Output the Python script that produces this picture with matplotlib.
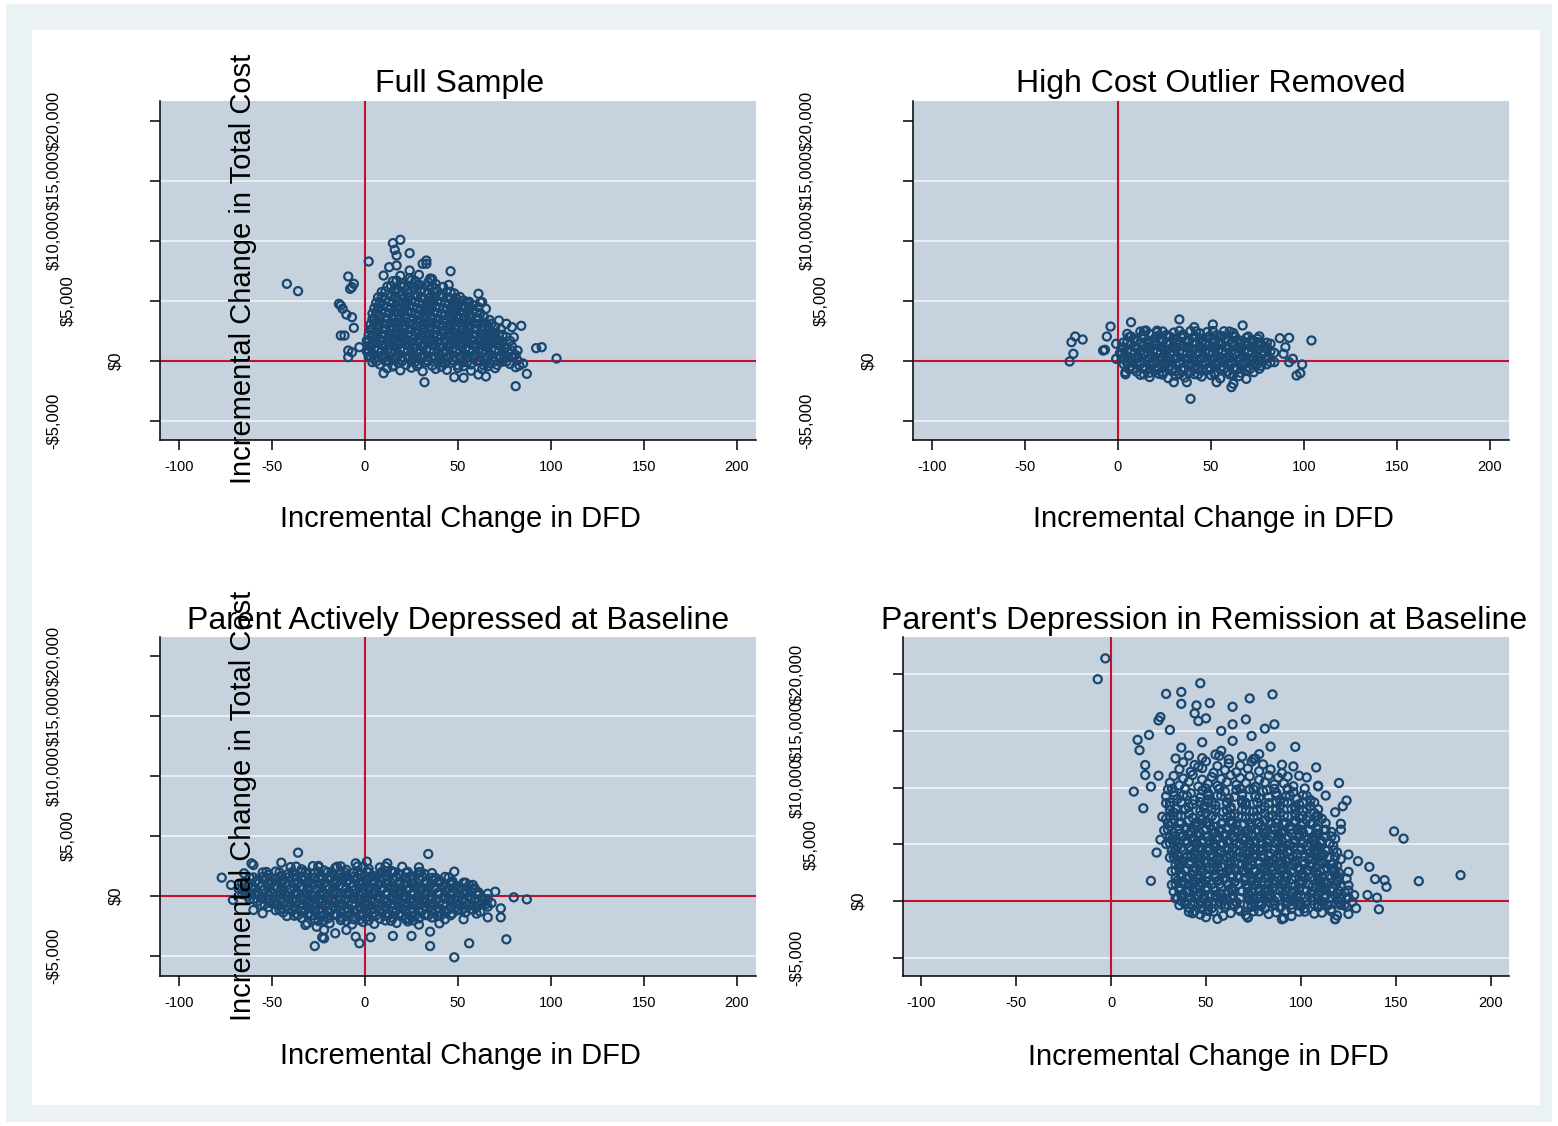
import matplotlib
matplotlib.use("Agg")
import matplotlib.pyplot as plt
import matplotlib.transforms as mtransforms
from matplotlib.patches import Rectangle

plt.rcParams['font.family'] = ['Liberation Sans', 'DejaVu Sans']

# ---------------- data ----------------
titles = ["Full Sample", "High Cost Outlier Removed",
          "Parent Actively Depressed at Baseline",
          "Parent's Depression in Remission at Baseline"]
x_title = "Incremental Change in DFD"
y_title = "Incremental Change in Total Cost"
x_ticks = [-100, -50, 0, 50, 100, 150, 200]
y_ticks = [-5000, 0, 5000, 10000, 15000, 20000]
y_tick_labels = ["-$5,000", "$0", "$5,000", "$10,000", "$15,000", "$20,000"]

# Panel 1: Full Sample
full_dfd = [
 12,19,25,31,38,44,50,57,63,70,
 4,8,11,15,18,22,25,29,32,36,39,43,46,50,53,57,60,64,67,71,74,78,
 2,5,9,12,16,19,23,26,30,33,37,40,44,47,51,54,58,61,65,68,72,75,79,82,
 1,4,7,11,14,18,21,25,28,32,35,39,42,46,49,53,56,60,63,67,70,74,77,81,
 2,5,9,12,16,19,23,26,30,33,37,40,44,47,51,54,58,61,65,68,72,75,79,
 1,4,8,11,15,18,22,25,29,32,36,39,43,46,50,53,57,60,64,67,71,74,78,
 2,6,9,13,16,20,23,27,30,34,37,41,44,48,51,55,58,62,65,69,72,76,
 3,6,10,13,17,20,24,27,31,34,38,41,45,48,52,55,59,62,66,69,73,
 3,7,10,14,17,21,24,28,31,35,38,42,45,49,52,56,59,63,66,70,
 4,7,11,14,18,21,25,28,32,35,39,42,46,49,53,56,60,63,67,
 4,8,11,15,18,22,25,29,32,36,39,43,46,50,53,57,60,64,
 5,9,12,16,19,23,26,30,33,37,40,44,47,51,54,58,61,
 6,10,13,17,20,24,27,31,34,38,41,45,48,52,55,58,
 7,11,14,18,21,25,28,32,35,39,42,46,49,53,
 9,13,16,20,23,27,30,34,37,41,44,48,
 12,16,19,23,26,30,34,38,42,
 15,20,25,29,34,38,
 19,24,29,
 -42,-36,2,15,19,16,17,24,33,33,46,45,36,-9,-6,-8,-13,-14,-12,-10,
 -7,-6,-13,-11,-9,-9,-7,-3,10,32,48,53,61,65,81,87,83,82,92,95,
 103,84,79,76,72,65,61,62,80,81,85,31,63,-7,17,13,24,10,35,
]
full_cost = [
 -650,-820,-600,-900,-700,-780,-620,-850,-720,-640,
 -140,-330,-60,-420,-220,-370,-90,-290,-170,-440,-110,-260,-190,-400,-140,-330,-60,-420,-220,-370,-90,-290,
 310,120,390,30,230,80,360,160,280,10,340,190,260,50,310,120,390,30,230,80,360,160,280,10,
 760,570,840,480,680,530,810,610,730,460,790,640,710,500,760,570,840,480,680,530,810,610,730,460,
 1210,1020,1290,930,1130,980,1260,1060,1180,910,1240,1090,1160,950,1210,1020,1290,930,1130,980,1260,1060,1180,
 1660,1470,1740,1380,1580,1430,1710,1510,1630,1360,1690,1540,1610,1400,1660,1470,1740,1380,1580,1430,1710,1510,1630,
 2110,1920,2190,1830,2030,1880,2160,1960,2080,1810,2140,1990,2060,1850,2110,1920,2190,1830,2030,1880,2160,1960,
 2560,2370,2640,2280,2480,2330,2610,2410,2530,2260,2590,2440,2510,2300,2560,2370,2640,2280,2480,2330,2610,
 3010,2820,3090,2730,2930,2780,3060,2860,2980,2710,3040,2890,2960,2750,3010,2820,3090,2730,2930,2780,
 3460,3270,3540,3180,3380,3230,3510,3310,3430,3160,3490,3340,3410,3200,3460,3270,3540,3180,3380,
 3910,3720,3990,3630,3830,3680,3960,3760,3880,3610,3940,3790,3860,3650,3910,3720,3990,3630,
 4360,4170,4440,4080,4280,4130,4410,4210,4330,4060,4390,4240,4310,4100,4360,4170,4440,
 4810,4620,4890,4530,4730,4580,4860,4660,4780,4510,4840,4690,4760,4550,4810,4620,
 5260,5070,5340,4980,5180,5030,5310,5110,5230,4960,5290,5140,5210,5000,
 5710,5520,5790,5430,5630,5480,5760,5560,5680,5410,5740,5590,
 6160,5970,6240,5880,6080,5930,6210,6010,6130,
 6610,6420,6690,6330,6530,6380,
 7060,6870,7140,
 6390,5780,8250,9780,10060,9220,8750,8940,8330,8060,7440,6300,6800,7000,6390,5970,4580,4720,4310,3830,
 3610,2720,2080,2080,830,280,690,1110,-1060,-1810,-1390,-1440,-1170,-1330,-2140,-1110,-420,830,1030,1110,
 170,2890,2780,3060,3330,4310,5560,4860,1940,-560,-250,8060,4860,6110,7920,7780,7500,7080,6830,
]
# second batch of points in the dense core of panel 1
full_dfd_2 = [
 15,28,41,53,66,
 6,13,20,27,34,41,48,55,62,69,76,
 3,10,17,24,31,38,45,52,59,66,73,80,
 2,9,16,23,30,37,44,51,58,65,72,79,
 3,10,17,24,31,38,45,52,59,66,73,
 2,9,16,23,30,37,44,51,58,65,72,
 4,11,18,25,32,39,46,53,60,67,74,
 4,11,18,25,32,39,46,53,60,67,
 5,12,19,26,33,40,47,54,61,68,
 5,12,19,26,33,40,47,54,61,
 6,13,20,27,34,41,48,55,62,
 7,14,21,28,35,42,49,56,
 8,15,22,29,36,43,50,56,
 9,16,23,30,37,44,51,
 11,18,25,32,39,46,
 14,21,28,36,
 17,27,36,
]
full_cost_2 = [
 -500,-460,-520,-470,-490,
 -90,-120,-60,-110,-80,-130,-70,-100,-50,-120,-90,
 360,330,380,340,370,320,350,390,330,360,340,370,
 810,780,830,790,820,770,800,840,780,810,790,820,
 1260,1230,1280,1240,1270,1220,1250,1290,1230,1260,1240,
 1710,1680,1730,1690,1720,1670,1700,1740,1680,1710,1690,
 2160,2130,2180,2140,2170,2120,2150,2190,2130,2160,2140,
 2610,2580,2630,2590,2620,2570,2600,2640,2580,2610,
 3060,3030,3080,3040,3070,3020,3050,3090,3030,3060,
 3510,3480,3530,3490,3520,3470,3500,3540,3480,
 3960,3930,3980,3940,3970,3920,3950,3990,3930,
 4410,4380,4430,4390,4420,4370,4400,4440,
 4860,4830,4880,4840,4870,4820,4850,4890,
 5310,5280,5330,5290,5320,5270,5300,
 5760,5730,5780,5740,5770,5720,
 6210,6180,6230,6190,
 6660,6630,6680,
]

# Panel 2: High Cost Outlier Removed
hc_dfd = [
 12,17,21,26,30,35,39,44,48,53,57,62,
 6,9,13,16,20,23,27,30,34,37,41,44,48,51,55,58,62,65,69,72,76,
 3,7,10,14,17,21,24,28,31,35,38,42,45,49,52,56,59,63,66,70,73,77,80,
 2,5,9,12,16,19,23,26,30,33,37,40,44,47,51,54,58,61,65,68,72,75,79,82,
 1,4,7,11,14,18,21,25,28,32,35,39,42,46,49,53,56,60,63,67,70,74,77,81,84,
 2,5,9,12,16,19,23,26,30,33,37,40,44,47,51,54,58,61,65,68,72,75,79,82,
 3,7,10,14,17,21,24,28,31,35,38,42,45,49,52,56,59,63,66,70,73,77,80,
 6,10,13,17,20,24,27,31,34,38,41,45,48,52,55,59,62,66,69,73,76,
 12,17,22,27,31,36,41,45,50,55,60,65,
 -26,-24,-25,-23,-19,-4,-6,-7,-8,-1,-1,7,4,4,33,39,51,67,87,92,
 104,90,89,94,99,98,96,92,82,84,61,62,53,30,37,69,15,21,41,75,5,
]
hc_cost = [
 2410,2220,2490,2130,2330,2180,2460,2260,2380,2110,2440,2290,
 1960,1770,2040,1680,1880,1730,2010,1810,1930,1660,1990,1840,1910,1700,1960,1770,2040,1680,1880,1730,2010,
 1510,1320,1590,1230,1430,1280,1560,1360,1480,1210,1540,1390,1460,1250,1510,1320,1590,1230,1430,1280,1560,1360,1480,
 1060,870,1140,780,980,830,1110,910,1030,760,1090,940,1010,800,1060,870,1140,780,980,830,1110,910,1030,760,
 610,420,690,330,530,380,660,460,580,310,640,490,560,350,610,420,690,330,530,380,660,460,580,310,640,
 160,-30,240,-120,80,-70,210,10,130,-140,190,40,110,-100,160,-30,240,-120,80,-70,210,10,130,-140,
 -290,-480,-210,-570,-370,-520,-240,-440,-320,-590,-260,-410,-340,-550,-290,-480,-210,-570,-370,-520,-240,-440,-320,
 -740,-930,-660,-1020,-820,-970,-690,-890,-770,-1040,-710,-860,-790,-1000,-740,-930,-660,-1020,-820,-970,-690,
 -1190,-1380,-1110,-1470,-1270,-1420,-1140,-1340,-1220,-1490,-1160,-1310,
 -80,560,1530,2000,1750,2830,2000,890,830,140,1390,3190,-970,-1150,3420,-3190,3000,2920,1860,1890,
 1670,1110,560,140,-330,-1060,-1250,-140,1390,-140,-2220,-1940,-1810,-1810,-1810,-1530,2500,2360,2780,1810,2220,
]
hc_dfd_2 = [
 14,24,33,42,51,60,
 7,14,21,28,35,42,49,56,63,70,
 5,12,19,26,33,40,47,54,61,68,75,
 3,10,17,24,31,38,45,52,59,66,73,80,
 2,9,16,23,30,37,44,51,58,65,72,79,
 3,10,17,24,31,38,45,52,59,66,73,80,
 5,12,19,26,33,40,47,54,61,68,75,
 8,15,22,29,36,43,50,57,64,71,
 14,24,33,43,52,62,
]
hc_cost_2 = [
 2450,2420,2470,2430,2460,2410,
 2000,1970,2020,1980,2010,1960,1990,2030,1970,2000,
 1550,1520,1570,1530,1560,1510,1540,1580,1520,1550,1530,
 1100,1070,1120,1080,1110,1060,1090,1130,1070,1100,1080,1110,
 650,620,670,630,660,610,640,680,620,650,630,660,
 200,170,220,180,210,160,190,230,170,200,180,210,
 -250,-280,-230,-270,-240,-290,-260,-220,-280,-250,-270,
 -700,-730,-680,-720,-690,-740,-710,-670,-730,-700,
 -1150,-1180,-1130,-1170,-1140,-1190,
]

# Panel 3: Parent actively depressed at baseline
act_dfd = [
 -40,-34,-28,-22,-16,-10,-4,2,8,14,20,
 -55,-52,-48,-45,-41,-38,-34,-31,-27,-24,-20,-17,-13,-10,-6,-3,1,4,8,11,15,18,22,25,29,32,36,
 -62,-58,-55,-51,-48,-44,-41,-37,-34,-30,-27,-23,-20,-16,-13,-9,-6,-2,1,5,8,12,15,19,22,26,29,33,36,40,43,47,
 -66,-63,-59,-56,-52,-49,-45,-42,-38,-35,-31,-28,-24,-21,-17,-14,-10,-7,-3,0,4,7,11,14,18,21,25,28,32,35,39,42,46,49,53,56,
 -68,-65,-61,-58,-54,-51,-47,-44,-40,-37,-33,-30,-26,-23,-19,-16,-12,-9,-5,-2,2,5,9,12,16,19,23,26,30,33,37,40,44,47,51,54,58,61,
 -66,-63,-59,-56,-52,-49,-45,-42,-38,-35,-31,-28,-24,-21,-17,-14,-10,-7,-3,0,4,7,11,14,18,21,25,28,32,35,39,42,46,49,53,56,60,63,66,
 -62,-58,-55,-51,-48,-44,-41,-37,-34,-30,-27,-23,-20,-16,-13,-9,-6,-2,1,5,8,12,15,19,22,26,29,33,36,40,43,47,50,54,57,61,64,68,
 -56,-52,-49,-45,-42,-38,-35,-31,-28,-24,-21,-17,-14,-10,-7,-3,0,4,7,11,14,18,21,25,28,32,35,39,42,46,49,53,56,60,63,66,
 -48,-44,-41,-37,-34,-30,-27,-23,-20,-16,-13,-9,-6,-2,1,5,8,12,15,19,22,26,29,33,36,40,43,47,50,54,57,60,
 -38,-34,-31,-27,-24,-20,-17,-13,-10,-6,-3,1,4,8,11,15,18,22,25,29,32,36,39,43,46,
 -25,-19,-13,-7,-1,5,11,17,23,29,
 -77,-72,-71,-61,-60,-55,-42,-36,-45,-32,-27,-23,-26,-16,-10,-5,-3,3,15,25,
 35,34,29,48,35,48,56,76,73,73,70,80,87,66,62,53,58,54,40,24,
 -3,-5,1,12,-25,-15,-60,-65,-31,-22,-22,
]
act_cost = [
 2410,2220,2490,2130,2330,2180,2460,2260,2380,2110,2440,
 1960,1770,2040,1680,1880,1730,2010,1810,1930,1660,1990,1840,1910,1700,1960,1770,2040,1680,1880,1730,2010,1810,1930,1660,1990,1840,1910,
 1510,1320,1590,1230,1430,1280,1560,1360,1480,1210,1540,1390,1460,1250,1510,1320,1590,1230,1430,1280,1560,1360,1480,1210,1540,1390,1460,1250,1510,1320,1590,1230,
 1060,870,1140,780,980,830,1110,910,1030,760,1090,940,1010,800,1060,870,1140,780,980,830,1110,910,1030,760,1090,940,1010,800,1060,870,1140,780,980,830,1110,910,
 610,420,690,330,530,380,660,460,580,310,640,490,560,350,610,420,690,330,530,380,660,460,580,310,640,490,560,350,610,420,690,330,530,380,660,460,580,310,
 160,-30,240,-120,80,-70,210,10,130,-140,190,40,110,-100,160,-30,240,-120,80,-70,210,10,130,-140,190,40,110,-100,160,-30,240,-120,80,-70,210,10,130,-140,190,
 -290,-480,-210,-570,-370,-520,-240,-440,-320,-590,-260,-410,-340,-550,-290,-480,-210,-570,-370,-520,-240,-440,-320,-590,-260,-410,-340,-550,-290,-480,-210,-570,-370,-520,-240,-440,-320,-590,
 -740,-930,-660,-1020,-820,-970,-690,-890,-770,-1040,-710,-860,-790,-1000,-740,-930,-660,-1020,-820,-970,-690,-890,-770,-1040,-710,-860,-790,-1000,-740,-930,-660,-1020,-820,-970,-690,-890,
 -1190,-1380,-1110,-1470,-1270,-1420,-1140,-1340,-1220,-1490,-1160,-1310,-1240,-1450,-1190,-1380,-1110,-1470,-1270,-1420,-1140,-1340,-1220,-1490,-1160,-1310,-1240,-1450,-1190,-1380,-1110,-1470,
 -1640,-1830,-1560,-1920,-1720,-1870,-1590,-1790,-1670,-1940,-1610,-1760,-1690,-1900,-1640,-1830,-1560,-1920,-1720,-1870,-1590,-1790,-1670,-1940,-1610,
 -2090,-2280,-2010,-2370,-2170,-2320,-2040,-2240,-2120,-2390,
 1530,920,-330,2720,-1170,-1440,-1670,3610,2780,-2420,-4170,-3440,-2560,-3110,-2830,-3390,-3940,-3440,-3330,-3330,
 -4170,3500,2390,2030,-2970,-5110,-3940,-3610,-1780,-1030,360,-110,-280,-1780,-1310,-1940,920,1060,-2280,-1940,
 -2000,2720,2860,2720,2500,2440,2580,1890,-2280,-2830,-3530,
]
act_dfd_2 = [
 -37,-25,-13,-1,11,
 -53,-46,-39,-32,-25,-18,-11,-4,2,9,16,23,30,
 -60,-53,-46,-39,-32,-25,-18,-11,-4,3,10,17,24,31,38,45,
 -64,-57,-50,-43,-36,-29,-22,-15,-8,-1,5,12,19,26,33,40,47,54,
 -66,-59,-52,-45,-38,-31,-24,-17,-10,-3,3,10,17,24,31,38,45,52,59,
 -64,-57,-50,-43,-36,-29,-22,-15,-8,-1,5,12,19,26,33,40,47,54,61,
 -60,-53,-46,-39,-32,-25,-18,-11,-4,3,10,17,24,31,38,45,52,59,66,
 -54,-47,-40,-33,-26,-19,-12,-5,2,9,16,23,30,37,44,51,58,65,
 -46,-39,-32,-25,-18,-11,-4,3,10,17,24,31,38,45,52,58,
 -36,-29,-22,-15,-8,-1,6,13,20,27,34,41,
 -22,-10,2,14,26,
]
act_cost_2 = [
 2450,2420,2470,2430,2460,
 2000,1970,2020,1980,2010,1960,1990,2030,1970,2000,1980,2010,1990,
 1550,1520,1570,1530,1560,1510,1540,1580,1520,1550,1530,1560,1540,1570,1510,1550,
 1100,1070,1120,1080,1110,1060,1090,1130,1070,1100,1080,1110,1090,1120,1060,1100,1080,1110,
 650,620,670,630,660,610,640,680,620,650,630,660,640,670,610,650,630,660,640,
 200,170,220,180,210,160,190,230,170,200,180,210,190,220,160,200,180,210,190,
 -250,-280,-230,-270,-240,-290,-260,-220,-280,-250,-270,-240,-260,-230,-290,-250,-270,-240,-260,
 -700,-730,-680,-720,-690,-740,-710,-670,-730,-700,-720,-690,-710,-680,-740,-700,-720,-690,
 -1150,-1180,-1130,-1170,-1140,-1190,-1160,-1120,-1180,-1150,-1170,-1140,-1160,-1130,-1190,-1150,
 -1600,-1630,-1580,-1620,-1590,-1640,-1610,-1570,-1630,-1600,-1620,-1590,
 -2050,-2080,-2030,-2070,-2040,
]

# Panel 4: Parent's depression in remission at baseline
rem_dfd = [
 41,47,51,59,63,71,75,83,87,95,99,107,111,119,
 36,41,43,48,51,53,58,60,65,67,72,74,79,81,86,89,92,95,100,102,107,109,114,116,121,124,
 34,37,42,44,49,51,56,59,61,66,68,73,75,78,83,86,88,93,96,99,102,106,109,112,116,119,124,127,
 33,38,40,45,47,52,55,57,62,64,69,72,74,79,81,84,89,91,95,98,103,105,110,113,116,119,123,128,
 32,36,41,43,46,51,53,58,62,64,67,72,76,78,83,85,90,92,97,99,104,106,111,113,118,121,125,
 34,35,40,44,46,50,55,57,60,65,67,70,75,77,81,86,88,91,95,100,102,107,109,112,116,119,124,
 32,37,39,43,48,50,54,59,61,64,69,71,76,78,82,87,90,93,96,101,103,108,110,115,117,120,125,
 34,36,41,44,47,52,54,58,62,65,67,72,74,79,82,84,89,91,96,98,102,105,109,114,116,119,
 31,35,40,42,47,49,54,56,61,63,68,70,73,78,80,85,87,92,94,97,102,104,109,111,115,121,
 32,33,38,42,44,49,51,56,58,63,66,68,73,75,79,84,86,91,93,98,100,105,107,112,114,119,
 29,35,36,41,45,47,52,54,59,61,66,68,73,75,80,82,87,89,94,96,101,103,108,110,115,117,
 31,32,38,40,43,48,50,55,57,62,64,69,71,76,78,83,85,90,92,97,99,104,106,111,113,118,
 28,33,36,41,42,47,50,55,57,60,65,66,71,74,77,80,84,88,90,95,98,101,104,109,112,116,
 30,31,37,39,44,45,51,52,58,61,63,66,70,74,77,79,84,86,91,94,97,100,105,108,113,
 27,33,35,41,43,48,53,55,61,63,67,71,75,81,83,87,91,97,99,103,109,111,
 31,33,39,41,47,50,53,59,61,65,69,75,77,81,87,89,95,97,101,107,109,
 29,31,37,41,43,49,51,55,61,63,69,71,75,81,83,89,91,97,99,105,107,
 29,35,38,44,47,51,56,62,65,69,76,78,83,89,92,98,101,105,
 30,33,39,42,48,51,57,60,66,69,73,80,82,87,93,96,102,
 31,36,41,46,51,56,61,66,71,76,81,86,91,96,
 33,38,43,48,53,58,63,68,73,78,83,88,93,
 36,42,48,54,60,66,72,78,84,90,
 38,44,50,56,62,68,74,80,
 41,48,55,62,69,76,
 -3,-7,47,29,37,37,45,52,44,46,50,64,73,85,26,25,31,20,14,15,
 58,64,71,81,86,84,97,74,37,48,58,64,18,18,12,17,25,21,34,46,
 57,75,90,96,108,109,78,103,99,120,109,124,122,113,118,121,121,149,154,162,
 184,125,130,136,139,144,145,140,141,129,125,118,121,135,72,90,26,24,21,40,
 40,43,50,56,72,91,118,29,35,
]
rem_cost = [
 -970,-1200,-880,-1300,-1060,-1240,-910,-1150,-1000,-1320,-940,-1110,-1030,-1280,
 -370,-600,-280,-700,-460,-640,-310,-550,-400,-720,-340,-510,-430,-680,-370,-600,-280,-700,-460,-640,-310,-550,-400,-720,-340,-510,
 230,0,320,-100,140,-40,290,50,200,-120,260,90,170,-80,230,0,320,-100,140,-40,290,50,200,-120,260,90,170,-80,
 830,600,920,500,740,560,890,650,800,480,860,690,770,520,830,600,920,500,740,560,890,650,800,480,860,690,770,520,
 1430,1200,1520,1100,1340,1160,1490,1250,1400,1080,1460,1290,1370,1120,1430,1200,1520,1100,1340,1160,1490,1250,1400,1080,1460,1290,1370,
 2030,1800,2120,1700,1940,1760,2090,1850,2000,1680,2060,1890,1970,1720,2030,1800,2120,1700,1940,1760,2090,1850,2000,1680,2060,1890,1970,
 2630,2400,2720,2300,2540,2360,2690,2450,2600,2280,2660,2490,2570,2320,2630,2400,2720,2300,2540,2360,2690,2450,2600,2280,2660,2490,2570,
 3230,3000,3320,2900,3140,2960,3290,3050,3200,2880,3260,3090,3170,2920,3230,3000,3320,2900,3140,2960,3290,3050,3200,2880,3260,3090,
 3830,3600,3920,3500,3740,3560,3890,3650,3800,3480,3860,3690,3770,3520,3830,3600,3920,3500,3740,3560,3890,3650,3800,3480,3860,3690,
 4430,4200,4520,4100,4340,4160,4490,4250,4400,4080,4460,4290,4370,4120,4430,4200,4520,4100,4340,4160,4490,4250,4400,4080,4460,4290,
 5030,4800,5120,4700,4940,4760,5090,4850,5000,4680,5060,4890,4970,4720,5030,4800,5120,4700,4940,4760,5090,4850,5000,4680,5060,4890,
 5630,5400,5720,5300,5540,5360,5690,5450,5600,5280,5660,5490,5570,5320,5630,5400,5720,5300,5540,5360,5690,5450,5600,5280,5660,5490,
 6230,6000,6320,5900,6140,5960,6290,6050,6200,5880,6260,6090,6170,5920,6230,6000,6320,5900,6140,5960,6290,6050,6200,5880,6260,6090,
 6830,6600,6920,6500,6740,6560,6890,6650,6800,6480,6860,6690,6770,6520,6830,6600,6920,6500,6740,6560,6890,6650,6800,6480,6860,
 7430,7200,7520,7100,7340,7160,7490,7250,7400,7080,7460,7290,7370,7120,7430,7200,7520,7100,7340,7160,7490,7250,
 8030,7800,8120,7700,7940,7760,8090,7850,8000,7680,8060,7890,7970,7720,8030,7800,8120,7700,7940,7760,8090,
 8630,8400,8720,8300,8540,8360,8690,8450,8600,8280,8660,8490,8570,8320,8630,8400,8720,8300,8540,8360,8690,
 9230,9000,9320,8900,9140,8960,9290,9050,9200,8880,9260,9090,9170,8920,9230,9000,9320,8900,
 9830,9600,9920,9500,9740,9560,9890,9650,9800,9480,9860,9690,9770,9520,9830,9600,9920,
 10430,10200,10520,10100,10340,10160,10490,10250,10400,10080,10460,10290,10370,10120,
 11030,10800,11120,10700,10940,10760,11090,10850,11000,10680,11060,10890,10970,
 11630,11400,11720,11300,11540,11360,11690,11450,11600,11280,
 12230,12000,12320,11900,12140,11960,12290,12050,
 12830,12600,12920,12500,12740,12560,
 21400,19560,19210,18270,18440,17390,17250,17450,16550,15870,16110,17130,17870,18220,16220,15930,15090,14650,14210,13300,
 15000,15580,16020,15200,15580,13620,13600,14560,13530,14000,13250,14120,11990,11110,9650,8180,11050,10090,12570,11840,
 12810,12520,12020,11870,11780,10110,12950,10900,11050,10410,10170,8860,8360,9300,7830,6810,6290,6140,5500,1750,
 2280,4100,3510,3010,1930,1840,1250,290,-730,-640,-1140,-1610,-350,530,-1460,-1610,5410,4270,1780,1930,
 760,-1080,-1430,-1580,-1430,-1520,-1580,7250,3600,
]
rem_dfd_2 = [
 44,54,68,78,92,102,116,
 39,46,50,60,64,74,79,86,95,100,109,114,123,
 35,44,49,58,63,72,77,84,93,98,107,112,121,125,
 36,41,50,55,64,69,78,83,92,97,106,111,120,125,
 34,43,48,57,62,71,76,85,90,99,104,113,118,
 37,41,51,55,63,71,78,83,92,97,105,111,120,
 34,43,47,57,62,70,76,85,89,99,104,112,118,
 36,41,50,56,63,69,78,84,90,97,106,111,117,
 33,42,47,56,61,70,75,83,89,96,105,110,118,
 34,38,47,52,61,66,75,80,89,94,103,108,117,
 31,40,45,54,59,68,73,82,87,96,101,110,115,
 33,37,46,51,60,65,74,79,88,93,102,107,116,
 30,39,44,53,58,67,72,81,86,95,100,109,113,
 32,36,45,50,59,64,73,78,87,92,101,106,
 31,37,47,53,63,69,77,85,93,101,108,
 34,39,49,55,63,71,79,87,97,103,
 31,37,47,53,61,71,77,87,93,101,
 33,40,51,58,69,76,87,94,103,
 32,39,50,57,68,75,86,93,
]
rem_cost_2 = [
 -900,-930,-880,-920,-890,-940,-910,
 -300,-330,-280,-320,-290,-340,-310,-270,-330,-300,-320,-290,-310,
 300,270,320,280,310,260,290,330,270,300,280,310,290,320,
 900,870,920,880,910,860,890,930,870,900,880,910,890,920,
 1500,1470,1520,1480,1510,1460,1490,1530,1470,1500,1480,1510,1490,
 2100,2070,2120,2080,2110,2060,2090,2130,2070,2100,2080,2110,2090,
 2700,2670,2720,2680,2710,2660,2690,2730,2670,2700,2680,2710,2690,
 3300,3270,3320,3280,3310,3260,3290,3330,3270,3300,3280,3310,3290,
 3900,3870,3920,3880,3910,3860,3890,3930,3870,3900,3880,3910,3890,
 4500,4470,4520,4480,4510,4460,4490,4530,4470,4500,4480,4510,4490,
 5100,5070,5120,5080,5110,5060,5090,5130,5070,5100,5080,5110,5090,
 5700,5670,5720,5680,5710,5660,5690,5730,5670,5700,5680,5710,5690,
 6300,6270,6320,6280,6310,6260,6290,6330,6270,6300,6280,6310,6290,
 6900,6870,6920,6880,6910,6860,6890,6930,6870,6900,6880,6910,
 7500,7470,7520,7480,7510,7460,7490,7530,7470,7500,7480,
 8100,8070,8120,8080,8110,8060,8090,8130,8070,8100,
 8700,8670,8720,8680,8710,8660,8690,8730,8670,8700,
 9300,9270,9320,9280,9310,9260,9290,9330,9270,
 9900,9870,9920,9880,9910,9860,9890,9930,
]
# third batch in the densest lower part of panel 4
rem_dfd_3 = [
 39,48,57,66,75,84,93,102,111,120,
 37,46,55,64,73,82,91,100,109,118,
 36,45,54,63,72,81,90,99,108,117,
 38,47,56,65,74,83,92,101,110,119,
 37,46,55,64,73,82,91,100,109,118,
 36,45,54,63,72,81,90,99,108,117,
 38,47,56,65,74,83,92,101,110,
 35,44,53,62,71,80,89,98,107,
 37,46,55,64,73,82,91,100,109,
 34,43,52,61,70,79,88,97,106,
 36,45,54,63,72,81,90,99,108,
]
rem_cost_3 = [
 -80,-120,-60,-110,-90,-130,-70,-100,-50,-120,
 520,480,540,490,510,470,530,500,550,480,
 1120,1080,1140,1090,1110,1070,1130,1100,1150,1080,
 1720,1680,1740,1690,1710,1670,1730,1700,1750,1680,
 2320,2280,2340,2290,2310,2270,2330,2300,2350,2280,
 2920,2880,2940,2890,2910,2870,2930,2900,2950,2880,
 3520,3480,3540,3490,3510,3470,3530,3500,3550,
 4120,4080,4140,4090,4110,4070,4130,4100,4150,
 4720,4680,4740,4690,4710,4670,4730,4700,4750,
 5320,5280,5340,5290,5310,5270,5330,5300,5350,
 5920,5880,5940,5890,5910,5870,5930,5900,5950,
]

panel_x = [full_dfd + full_dfd_2, hc_dfd + hc_dfd_2,
           act_dfd + act_dfd_2, rem_dfd + rem_dfd_2 + rem_dfd_3]
panel_y = [full_cost + full_cost_2, hc_cost + hc_cost_2,
           act_cost + act_cost_2, rem_cost + rem_cost_2 + rem_cost_3]
for a, b in [(full_dfd, full_cost), (full_dfd_2, full_cost_2), (hc_dfd, hc_cost),
             (hc_dfd_2, hc_cost_2), (act_dfd, act_cost), (act_dfd_2, act_cost_2),
             (rem_dfd, rem_cost), (rem_dfd_2, rem_cost_2), (rem_dfd_3, rem_cost_3)]:
    assert len(a) == len(b), (len(a), len(b))

# ---------------- layout / style ----------------
W, H = 1558, 1126
fig = plt.figure(figsize=(W / 100, H / 100), dpi=100)
fig.patch.set_facecolor("white")

def fx(px):
    return px / W

def fy(py):
    return 1 - py / H

fig.patches.append(Rectangle((fx(6), fy(1122)), (1552 - 6) / W, (1122 - 4) / H,
                             transform=fig.transFigure, facecolor="#eaf2f3",
                             edgecolor="none", zorder=-20))
fig.patches.append(Rectangle((fx(32), fy(1105)), (1540 - 32) / W, (1105 - 30) / H,
                             transform=fig.transFigure, facecolor="white",
                             edgecolor="none", zorder=-10))

PLOT_BG = "#c6d3df"
GRID = "#eaf2f3"
RED = "#c8102e"
NAVY = "#1a476f"

# (left, top, right, bottom) in px ; xlim ; ylim ; gridline values
boxes = [(160, 101, 756, 440), (913, 101, 1509, 440),
         (160, 637, 756, 976), (903, 637, 1509, 976)]
xlims = [(-110.2, 210.2), (-110.2, 210.2), (-110.2, 210.2), (-109.5, 209.5)]
ylims = [(-6625, 21625), (-6625, 21625), (-6667, 21583), (-6615, 23285)]
grids = [[-5000, 5000, 10000, 15000], [-5000, 5000, 10000, 15000],
         [-5000, 5000, 10000, 15000], [-5000, 5000, 10000, 15000, 20000]]
title_pos = [(460, 92), (1211, 92), (458, 629), (1204, 629)]
xtitle_pos = [(460, 527), (1213, 527), (460, 1064), (1208, 1065)]
ylab_offsets = {"$0": -44, "$5,000": -92}

for i in range(4):
    l, t, r, b = boxes[i]
    ax = fig.add_axes([fx(l), fy(b), (r - l) / W, (b - t) / H])
    ax.set_facecolor(PLOT_BG)
    ax.set_xlim(*xlims[i])
    ax.set_ylim(*ylims[i])
    for g in grids[i]:
        ax.axhline(g, color=GRID, lw=1.3, zorder=1)
    ax.axhline(0, color=RED, lw=1.5, zorder=2)
    ax.axvline(0, color=RED, lw=1.5, zorder=2)
    ax.scatter(panel_x[i], panel_y[i], s=34, facecolors="none",
               edgecolors=NAVY, linewidths=1.6, zorder=3)
    for s in ("top", "right"):
        ax.spines[s].set_visible(False)
    for s in ("left", "bottom"):
        ax.spines[s].set_linewidth(1.1)
        ax.spines[s].set_zorder(4)
    ax.set_xticks(x_ticks)
    ax.set_xticklabels([str(v) for v in x_ticks], fontsize=10.5)
    ax.set_yticks(y_ticks)
    ax.set_yticklabels([])
    ax.tick_params(axis="both", direction="out", length=7.5, width=1.1, color="black")
    ax.tick_params(axis="x", pad=7)
    for v, lab in zip(y_ticks, y_tick_labels):
        dx = ylab_offsets.get(lab, -106)
        tr = ax.get_yaxis_transform() + mtransforms.ScaledTranslation(dx / 100, 0, fig.dpi_scale_trans)
        ax.text(0, v, lab.replace("$", r"\$"), transform=tr, rotation=90,
                ha="center", va="center", fontsize=12, clip_on=False)
    tx, ty = title_pos[i]
    fig.text(fx(tx), fy(ty), titles[i], ha="center", va="baseline", fontsize=23)
    xx, xy = xtitle_pos[i]
    fig.text(fx(xx), fy(xy), x_title, ha="center", va="baseline", fontsize=21)

for (yx, yy) in [(243, 269), (243, 806)]:
    fig.text(fx(yx), fy(yy), y_title, rotation=90, ha="center", va="center",
             fontsize=21, zorder=10)

fig.savefig("out.png", dpi=100, facecolor=fig.get_facecolor())
